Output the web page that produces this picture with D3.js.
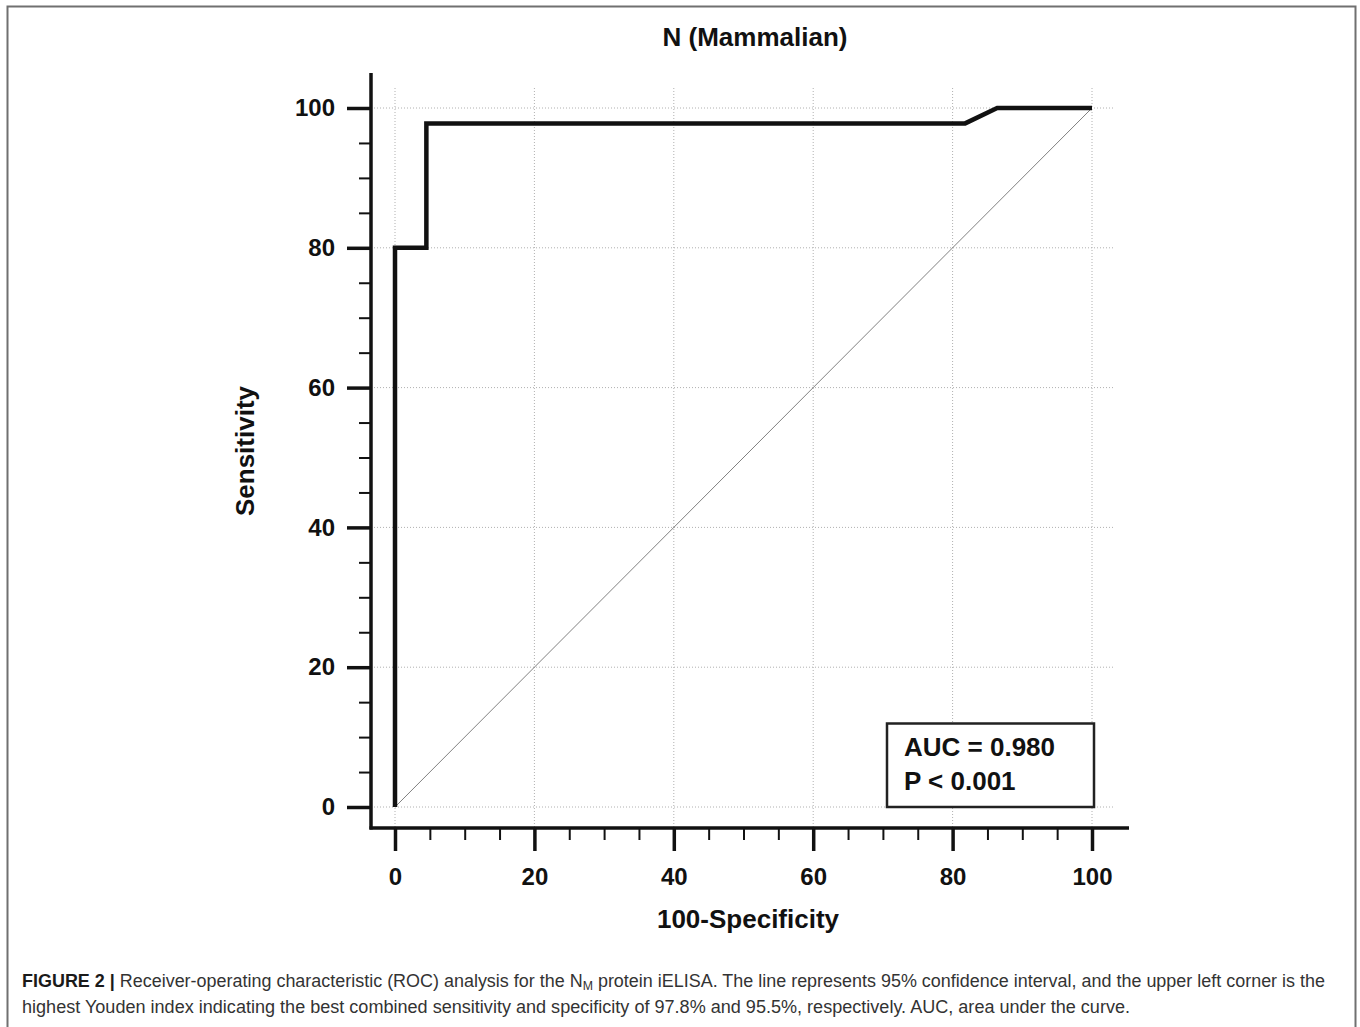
<!DOCTYPE html>
<html>
<head>
<meta charset="utf-8">
<script src="https://cdn.jsdelivr.net/npm/d3@7"></script>
<style>
  html, body { margin: 0; padding: 0; background: #fff; }
  svg { display: block; }
</style>
</head>
<body>
<svg id="chart" width="1360" height="1027"></svg>
<script>
// ---- data ----
const rocX = [0, 0, 4.5, 4.5, 81.8, 86.4, 100];      // 100-Specificity
const rocY = [0, 80, 80, 97.8, 97.8, 100, 100];      // Sensitivity
const refX = [0, 100];
const refY = [0, 100];
const majorTicks = [0, 20, 40, 60, 80, 100];
const minorTicks = [5, 10, 15, 25, 30, 35, 45, 50, 55, 65, 70, 75, 85, 90, 95];
const chartTitle = "N (Mammalian)";
const xTitle = "100-Specificity";
const yTitle = "Sensitivity";
const statLines = ["AUC = 0.980", "P < 0.001"];

const svg = d3.select("#chart");
const W = 1360, H = 1027;

// frame
svg.append("path")
  .attr("d", `M7.5,${H + 5} V6.5 H1355.5 V${H + 5}`)
  .attr("fill", "none").attr("stroke", "#707070").attr("stroke-width", 2);

const x = d3.scaleLinear().domain([0, 100]).range([395, 1092]);
const y = d3.scaleLinear().domain([0, 100]).range([807, 108]);

const axisX0 = 371, axisY0 = 828;
const gridTop = 88, gridRight = 1113;
const boldFont = "'Liberation Sans', Arial, sans-serif";

// grid
const grid = svg.append("g");
grid.selectAll(".vg").data(majorTicks).join("line")
  .attr("x1", d => x(d)).attr("x2", d => x(d))
  .attr("y1", gridTop).attr("y2", axisY0)
  .attr("stroke", "#b0b0b0").attr("stroke-width", 1).attr("stroke-dasharray", "1,2");
grid.selectAll(".hg").data(majorTicks).join("line")
  .attr("y1", d => y(d)).attr("y2", d => y(d))
  .attr("x1", axisX0).attr("x2", gridRight)
  .attr("stroke", "#b0b0b0").attr("stroke-width", 1).attr("stroke-dasharray", "1,2");

// axes (ticks through d3 axes)
function styleAxis(g, w) {
  g.select(".domain").remove();
  g.selectAll(".tick line").attr("stroke", "#111").attr("stroke-width", w);
}
const xMajor = svg.append("g").attr("transform", `translate(0,${axisY0})`)
  .call(d3.axisBottom(x).tickValues(majorTicks).tickSize(23).tickPadding(17).tickSizeOuter(0));
styleAxis(xMajor, 3.5);
xMajor.selectAll(".tick text")
  .attr("font-family", boldFont).attr("font-weight", "bold").attr("font-size", 24).attr("fill", "#111")
  .attr("dy", "0.71em");
const xMinor = svg.append("g").attr("transform", `translate(0,${axisY0})`)
  .call(d3.axisBottom(x).tickValues(minorTicks).tickSize(12).tickFormat("").tickSizeOuter(0));
styleAxis(xMinor, 2);

const yMajor = svg.append("g").attr("transform", `translate(${axisX0},0)`)
  .call(d3.axisLeft(y).tickValues(majorTicks).tickSize(24).tickPadding(12).tickSizeOuter(0));
styleAxis(yMajor, 3.5);
yMajor.selectAll(".tick text")
  .attr("font-family", boldFont).attr("font-weight", "bold").attr("font-size", 24).attr("fill", "#111");
const yMinor = svg.append("g").attr("transform", `translate(${axisX0},0)`)
  .call(d3.axisLeft(y).tickValues(minorTicks).tickSize(12).tickFormat("").tickSizeOuter(0));
styleAxis(yMinor, 2);

// axis lines
svg.append("line").attr("x1", axisX0).attr("x2", axisX0).attr("y1", 73).attr("y2", axisY0 + 1.5)
  .attr("stroke", "#111").attr("stroke-width", 3.5);
svg.append("line").attr("x1", axisX0 - 1.5).attr("x2", 1129).attr("y1", axisY0).attr("y2", axisY0)
  .attr("stroke", "#111").attr("stroke-width", 3.5);

// reference diagonal
const line = d3.line().x(d => x(d[0])).y(d => y(d[1]));
svg.append("path").datum(d3.zip(refX, refY)).attr("d", line)
  .attr("fill", "none").attr("stroke", "#808080").attr("stroke-width", 1);

// ROC curve
svg.append("path").datum(d3.zip(rocX, rocY)).attr("d", line)
  .attr("fill", "none").attr("stroke", "#111").attr("stroke-width", 4.5)
  .attr("stroke-linejoin", "miter");

// stat box
svg.append("rect").attr("x", 887).attr("y", 723.5).attr("width", 207).attr("height", 83.5)
  .attr("fill", "#fff").attr("stroke", "#222").attr("stroke-width", 2.5);
svg.selectAll(".stat").data(statLines).join("text")
  .attr("x", 904).attr("y", (d, i) => 756 + i * 34)
  .attr("font-family", boldFont).attr("font-weight", "bold").attr("font-size", 26).attr("fill", "#111")
  .text(d => d);

// titles
svg.append("text").attr("x", 755).attr("y", 46).attr("text-anchor", "middle")
  .attr("font-family", boldFont).attr("font-weight", "bold").attr("font-size", 26).attr("fill", "#111")
  .text(chartTitle);
svg.append("text").attr("x", 748).attr("y", 928).attr("text-anchor", "middle")
  .attr("font-family", boldFont).attr("font-weight", "bold").attr("font-size", 26).attr("fill", "#111")
  .text(xTitle);
svg.append("text").attr("transform", "translate(254,451) rotate(-90)").attr("text-anchor", "middle")
  .attr("font-family", boldFont).attr("font-weight", "bold").attr("font-size", 26).attr("fill", "#111")
  .text(yTitle);

// caption
const cap = svg.append("g").attr("font-family", "'Liberation Sans', Arial, sans-serif").attr("font-size", 17.5).attr("fill", "#333");
const t1 = cap.append("text").attr("x", 22).attr("y", 987).attr("textLength", 1303).attr("lengthAdjust", "spacingAndGlyphs");
t1.append("tspan").attr("font-weight", "bold").attr("fill", "#1a1a1a").text("FIGURE 2 | ");
t1.append("tspan").text("Receiver-operating characteristic (ROC) analysis for the N");
t1.append("tspan").attr("font-size", 12).attr("dy", 3).text("M");
t1.append("tspan").attr("dy", -3).text(" protein iELISA. The line represents 95% confidence interval, and the upper left corner is the");
cap.append("text").attr("x", 22).attr("y", 1013).attr("textLength", 1108).attr("lengthAdjust", "spacingAndGlyphs")
  .text("highest Youden index indicating the best combined sensitivity and specificity of 97.8% and 95.5%, respectively. AUC, area under the curve.");
</script>
</body>
</html>
